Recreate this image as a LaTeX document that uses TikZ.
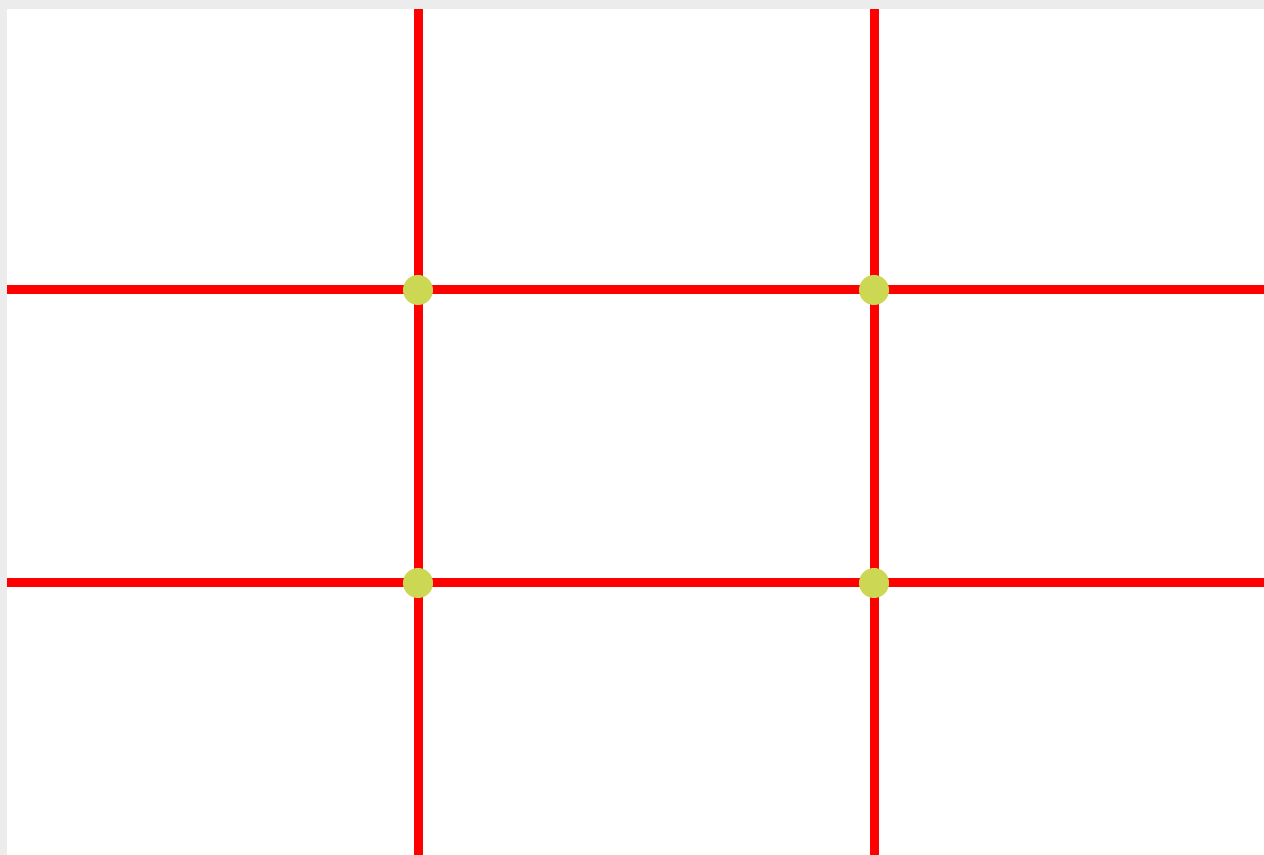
\documentclass[tikz,border=0pt]{standalone}
\usepackage{tikz}
\usetikzlibrary{positioning, backgrounds}
\usepackage{xcolor}
\definecolor{gridred}{RGB}{255,0,0}
\definecolor{dotgreen}{RGB}{204,216,84}
\definecolor{frame}{RGB}{236,236,236}

\begin{document}
\begin{tikzpicture}[
  x=0.02cm, y=0.02cm,
  gline/.style={draw=gridred, line width=0.18cm},
  spot/.style={circle, fill=dotgreen, minimum size=0.6cm, inner sep=0pt}
]
% canvas
\fill[frame] (0,0) rectangle (1264,855);
\fill[white] (7,0) rectangle (1264,846);
\useasboundingbox (0,0) rectangle (1264,855);
% line ends
\coordinate (V1t) at (418,846);
\coordinate (V1b) at (418,0);
\coordinate (V2t) at (874,846);
\coordinate (V2b) at (874,0);
\coordinate (H1l) at (7,565);
\coordinate (H1r) at (1264,565);
\coordinate (H2l) at (7,272);
\coordinate (H2r) at (1264,272);
\draw[gline] (V1t) -- (V1b);
\draw[gline] (V2t) -- (V2b);
\draw[gline] (H1l) -- (H1r);
\draw[gline] (H2l) -- (H2r);
% intersections
\node[spot] (TL) at (418,565) {};
\node[spot] (TR) at (874,565) {};
\node[spot] (BL) at (418,272) {};
\node[spot] (BR) at (874,272) {};
\end{tikzpicture}
\end{document}
